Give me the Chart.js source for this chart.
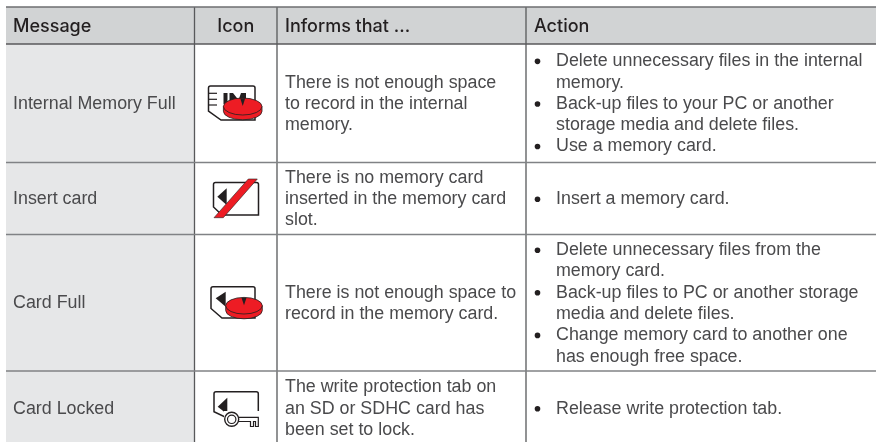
<!DOCTYPE html>
<html>
<head>
<meta charset="utf-8">
<script src="https://cdn.jsdelivr.net/npm/chart.js@4"></script>
<style>
    html, body { margin: 0; padding: 0; background: #fff; overflow: hidden; }
    canvas { display: block; filter: blur(0.35px); }
</style>
</head>
<body>
<canvas id="myChart" width="876" height="442"></canvas>
<script>
// table content
const columnHeaders = ['Message', 'Icon', 'Informs that ...', 'Action'];
const messages = ['Internal Memory Full', 'Insert card', 'Card Full', 'Card Locked'];
const informs = [
    ['There is not enough space', 'to record in the internal', 'memory.'],
    ['There is no memory card', 'inserted in the memory card', 'slot.'],
    ['There is not enough space to', 'record in the memory card.'],
    ['The write protection tab on', 'an SD or SDHC card has', 'been set to lock.'],
];
const actions = [
    [['Delete unnecessary files in the internal', 'memory.'],
     ['Back-up files to your PC or another', 'storage media and delete files.'],
     ['Use a memory card.']],
    [['Insert a memory card.']],
    [['Delete unnecessary files from the', 'memory card.'],
     ['Back-up files to PC or another storage', 'media and delete files.'],
     ['Change memory card to another one', 'has enough free space.']],
    [['Release write protection tab.']],
];

// layout of the table, in axis units
const colEdges = [6, 194.5, 277, 526, 876];
const rowEdges = [7, 44, 162.5, 234.5, 371, 445];
const lineHeight = 21.3;
const textFont = '17.85px "Liberation Sans"';
const headFont = '500 18px Inter';

function fillCell(x0, x1, top, bottom, color) {
    return {
        data: [{ x: x0, y: top }, { x: x1, y: top }],
        showLine: true, pointRadius: 0, borderWidth: 0,
        fill: { value: bottom }, backgroundColor: color,
    };
}

function rule(x0, y0, x1, y1, color) {
    return {
        data: [{ x: x0, y: y0 }, { x: x1, y: y1 }],
        showLine: true, pointRadius: 0, borderWidth: 1.3, borderColor: color, fill: false,
    };
}

const left = colEdges[0], right = colEdges[4];
// chart.js paints the first dataset last, so the fills go at the end
const datasets = [
    rule(left, rowEdges[0], right, rowEdges[0], '#6d6e71'),
    rule(left, rowEdges[1], right, rowEdges[1], '#58595b'),
    rule(left, rowEdges[2], right, rowEdges[2], '#808285'),
    rule(left, rowEdges[3], right, rowEdges[3], '#808285'),
    rule(left, rowEdges[4], right, rowEdges[4], '#808285'),
    rule(colEdges[1], rowEdges[0], colEdges[1], rowEdges[5], '#58595b'),
    rule(colEdges[2], rowEdges[0], colEdges[2], rowEdges[5], '#58595b'),
    rule(colEdges[3], rowEdges[0], colEdges[3], rowEdges[5], '#58595b'),
    fillCell(left, right, rowEdges[0], rowEdges[1], '#d1d3d4'),
    fillCell(left, colEdges[1], rowEdges[1], rowEdges[5], '#e6e7e8'),
];

//*** icons

const RED = '#ed1c24';
const INK = '#231f20';

function poly(ctx, pts) {
    ctx.beginPath();
    pts.forEach((p, i) => i ? ctx.lineTo(p[0], p[1]) : ctx.moveTo(p[0], p[1]));
}

function cardOutline(ctx, x0, y0, x1, y1, cutY, cutX) {
    ctx.strokeStyle = INK;
    ctx.lineWidth = 1.5;
    ctx.beginPath();
    ctx.moveTo(x0 + 2, y0);
    ctx.lineTo(x1 - 2, y0);
    ctx.quadraticCurveTo(x1, y0, x1, y0 + 2);
    ctx.lineTo(x1, y1);
    ctx.lineTo(cutX, y1);
    ctx.lineTo(x0, cutY);
    ctx.lineTo(x0, y0 + 2);
    ctx.quadraticCurveTo(x0, y0, x0 + 2, y0);
    ctx.stroke();
}

function arrow(ctx, tipX, tipY, baseX, y0, y1) {
    ctx.fillStyle = INK;
    poly(ctx, [[tipX, tipY], [baseX, y0], [baseX, y1]]);
    ctx.fill();
}

function disc(ctx, cx, cy, rx, ry, depth) {
    ctx.strokeStyle = INK;
    ctx.lineWidth = 0.8;
    ctx.fillStyle = RED;
    ctx.beginPath();
    ctx.ellipse(cx, cy + depth, rx, ry, 0, 0, Math.PI);
    ctx.lineTo(cx - rx, cy);
    ctx.lineTo(cx + rx, cy);
    ctx.closePath();
    ctx.fill();
    ctx.stroke();
    ctx.beginPath();
    ctx.ellipse(cx, cy, rx, ry, 0, 0, Math.PI * 2);
    ctx.fill();
    ctx.stroke();
    ctx.fillStyle = INK;
    poly(ctx, [[cx - 2.5, cy - ry + 0.3], [cx, cy - 0.5], [cx + 2.5, cy - ry + 0.3]]);
    ctx.fill();
}

const iconDrawers = [
    function (ctx) {
        cardOutline(ctx, 208.5, 86, 255, 120, 111, 221);
        ctx.lineWidth = 1.2;
        [93.3, 99.3, 105].forEach(y => {
            ctx.beginPath(); ctx.moveTo(208.5, y); ctx.lineTo(217, y); ctx.stroke();
        });
        ctx.fillStyle = INK;
        ctx.fillRect(223.5, 93, 4, 11);
        poly(ctx, [[229.5, 93], [233, 93], [238.5, 100], [241, 93], [246, 93], [246, 104], [229.5, 104]]);
        ctx.fill();
        disc(ctx, 242.7, 106.5, 19.3, 8.5, 4.8);
    },
    function (ctx) {
        cardOutline(ctx, 213.5, 182.5, 258.5, 215, 207, 222);
        arrow(ctx, 217.3, 196.7, 226.7, 188.3, 205);
        ctx.fillStyle = RED;
        poly(ctx, [[248.3, 179], [257.3, 179], [223.3, 217.7], [214, 217.7]]);
        ctx.closePath();
        ctx.fill();
        ctx.strokeStyle = INK;
        ctx.lineWidth = 0.6;
        ctx.stroke();
    },
    function (ctx) {
        cardOutline(ctx, 211, 286.7, 255, 318, 308.5, 222);
        arrow(ctx, 215.7, 298.3, 225.7, 291.7, 306.7);
        disc(ctx, 244, 305.7, 18.3, 8.3, 4.8);
    },
    function (ctx) {
        cardOutline(ctx, 214, 391.7, 258.3, 417, 411.7, 225);
        arrow(ctx, 217.7, 406.7, 227.3, 397.7, 414.3);
        ctx.fillStyle = '#fff';
        ctx.fillRect(224, 411, 36, 17);
        // key
        ctx.strokeStyle = INK;
        ctx.lineWidth = 1.4;
        ctx.beginPath();
        ctx.arc(231.7, 419.3, 7, 0, Math.PI * 2);
        ctx.fill();
        ctx.stroke();
        ctx.lineWidth = 1.2;
        ctx.beginPath();
        ctx.arc(231.7, 419.3, 4.2, 0, Math.PI * 2);
        ctx.stroke();
        poly(ctx, [[238.7, 417.3], [258.3, 417.3], [258.3, 426.5], [255.5, 426.5], [255.5, 421.5],
                   [253.5, 421.5], [253.5, 426.5], [250.5, 426.5], [250.5, 421.5], [238.7, 421.5]]);
        ctx.stroke();
    },
];

//*** text and icons go on top of the cells

const tablePlugin = {
    id: 'tableText',
    afterDatasetsDraw(chart) {
        const { ctx, scales } = chart;
        const px = v => scales.x.getPixelForValue(v);
        const py = v => scales.y.getPixelForValue(v);

        ctx.save();
        ctx.textBaseline = 'middle';

        // header
        const headY = py((rowEdges[0] + rowEdges[1]) / 2 + 1);
        ctx.font = headFont;
        ctx.fillStyle = '#231f20';
        ctx.textAlign = 'left';
        ctx.fillText(columnHeaders[0], px(13), headY);
        ctx.textAlign = 'center';
        ctx.fillText(columnHeaders[1], px((colEdges[1] + colEdges[2]) / 2), headY);
        ctx.textAlign = 'left';
        ctx.fillText(columnHeaders[2], px(285), headY);
        ctx.fillText(columnHeaders[3], px(534), headY);

        // rows
        ctx.font = textFont;
        ctx.fillStyle = '#4a4a4c';
        messages.forEach((msg, i) => {
            const mid = (rowEdges[i + 1] + rowEdges[i + 2]) / 2 + 0.7;
            ctx.fillText(msg, px(13), py(mid));

            const info = informs[i];
            info.forEach((line, j) => {
                ctx.fillText(line, px(285), py(mid + (j - (info.length - 1) / 2) * lineHeight));
            });

            const total = actions[i].reduce((n, item) => n + item.length, 0);
            let k = 0;
            actions[i].forEach(item => {
                item.forEach((line, j) => {
                    const y = py(mid + (k - (total - 1) / 2) * lineHeight);
                    if (j === 0) {
                        ctx.fillStyle = '#231f20';
                        ctx.beginPath();
                        ctx.arc(px(537.5), y, 2.8, 0, Math.PI * 2);
                        ctx.fill();
                        ctx.fillStyle = '#4a4a4c';
                    }
                    ctx.fillText(line, px(556), y);
                    k++;
                });
            });
        });

        iconDrawers.forEach(draw => draw(ctx));
        ctx.restore();
    },
};

const ctx = document.getElementById('myChart');
new Chart(ctx, {
    type: 'scatter',
    data: { datasets: datasets },
    options: {
        responsive: false,
        animation: false,
        layout: { padding: 0 },
        plugins: { legend: { display: false }, tooltip: { enabled: false }, title: { display: false } },
        scales: {
            x: { type: 'linear', min: 0, max: 876, display: false },
            y: { type: 'linear', min: 0, max: 442, reverse: true, display: false },
        },
    },
    plugins: [tablePlugin],
});
</script>
</body>
</html>
